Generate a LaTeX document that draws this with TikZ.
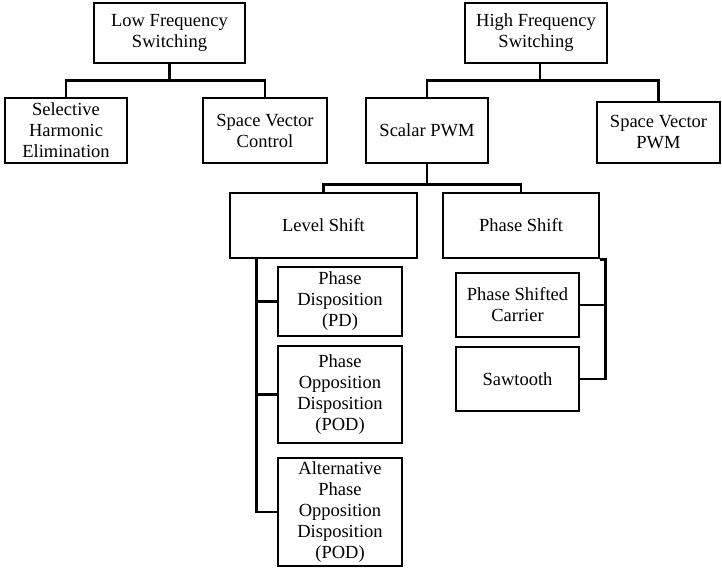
\documentclass[tikz,border=0pt]{standalone}
\usepackage{fontspec}
\setmainfont{Liberation Serif}
\usepackage{amsmath}

\tikzset{
  box/.style={draw, line width=2.6pt, rectangle, align=center, inner sep=0pt,
    font=\fontsize{18.5}{21}\selectfont},
  link/.style={line width=2.6pt}
}

\begin{document}
\begin{tikzpicture}[x=1pt,y=-1pt]
\useasboundingbox (0,0) rectangle (722,568);

\node[box, minimum width=151pt, minimum height=60pt] (low) at (169.5,33) {Low Frequency\\Switching};
\node[box, minimum width=142pt, minimum height=60pt] (high) at (536,33) {High Frequency\\Switching};

\node[box, minimum width=122pt, minimum height=65pt] (she) at (66,130.5) {Selective\\Harmonic\\Elimination};
\node[box, minimum width=124pt, minimum height=65pt] (svc) at (265,130.5) {Space Vector\\Control};
\node[box, minimum width=122pt, minimum height=65pt] (scalar) at (427,130.5) {Scalar PWM};
\node[box, minimum width=123pt, minimum height=61pt] (svpwm) at (658.5,132.5) {Space Vector\\PWM};

\node[box, minimum width=187pt, minimum height=65pt] (level) at (323.5,225.5) {Level Shift};
\node[box, minimum width=156pt, minimum height=65pt] (phase) at (521,225.5) {Phase Shift};

\node[box, minimum width=124pt, minimum height=69pt] (pd) at (340,301.5) {Phase\\Disposition\\(PD)};
\node[box, minimum width=124pt, minimum height=97pt] (pod) at (340,394.5) {Phase\\Opposition\\Disposition\\(POD)};
\node[box, minimum width=124pt, minimum height=108pt] (apod) at (340,512) {Alternative\\Phase\\Opposition\\Disposition\\(POD)};

\node[box, minimum width=123pt, minimum height=64pt] (psc) at (517.5,305) {Phase Shifted\\Carrier};
\node[box, minimum width=123pt, minimum height=64pt] (saw) at (517.5,379) {Sawtooth};

\draw[link] (low.south) -- ++(0,16) coordinate (lowbus);
\draw[link] (she.north) |- (lowbus) -| (svc.north);

\draw[link] ([xshift=4pt]high.south) -- ++(0,16) coordinate (highbus);
\draw[link] (scalar.north) |- (highbus) -| (svpwm.north);

\draw[link] (scalar.south) -- ++(0,20) coordinate (scalarbus);
\draw[link] (level.north) |- (scalarbus) -| (phase.north);

\draw[link] ([xshift=28pt]level.south west) coordinate (levelbus) |- (pd.west);
\draw[link] (levelbus) |- (pod.west);
\draw[link] (levelbus) |- (apod.west);

\draw[link] (phase.south east) -- ++(5,0) coordinate (phasebus) |- (psc.east);
\draw[link] (phasebus) |- (saw.east);
\end{tikzpicture}
\end{document}
